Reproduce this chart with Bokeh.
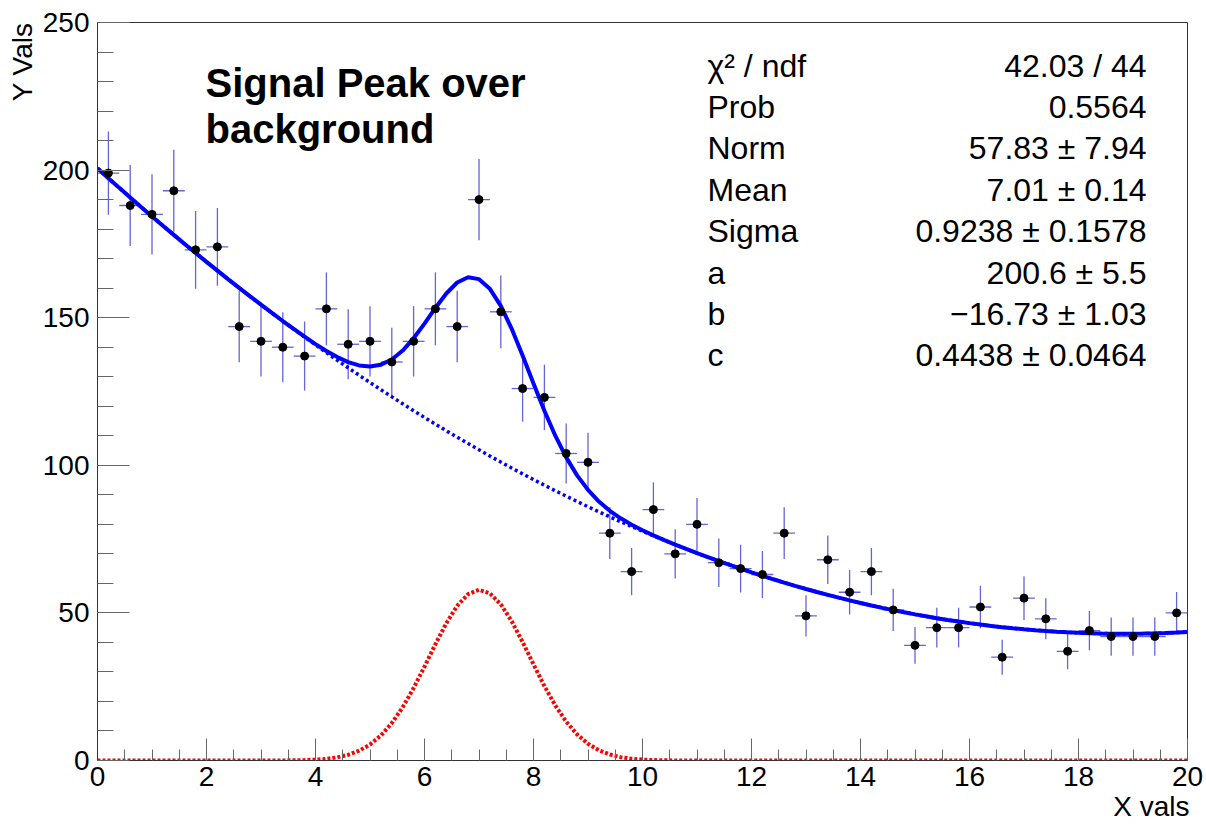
import numpy as np
from bokeh.plotting import figure
from bokeh.models import Range1d, FixedTicker, Label, Title
from bokeh.embed import file_html
from bokeh.resources import INLINE

# ---------------- data ----------------
x_centers = [0.2, 0.6, 1.0, 1.4, 1.8, 2.2, 2.6, 3.0, 3.4, 3.8,
             4.2, 4.6, 5.0, 5.4, 5.8, 6.2, 6.6, 7.0, 7.4, 7.8,
             8.2, 8.6, 9.0, 9.4, 9.8, 10.2, 10.6, 11.0, 11.4, 11.8,
             12.2, 12.6, 13.0, 13.4, 13.8, 14.2, 14.6, 15.0, 15.4, 15.8,
             16.2, 16.6, 17.0, 17.4, 17.8, 18.2, 18.6, 19.0, 19.4, 19.8]
counts = [199, 188, 185, 193, 173, 174, 147, 142, 140, 137,
          153, 141, 142, 135, 142, 153, 147, 190, 152, 126,
          123, 104, 101, 77, 64, 85, 70, 80, 67, 65,
          63, 77, 49, 68, 57, 64, 51, 39, 45, 45,
          52, 35, 55, 48, 37, 44, 42, 42, 42, 50]
bin_half_width = 0.2

# fit parameters shown in the stats box
fit_norm, fit_mean, fit_sigma = 57.83, 7.01, 0.9238
fit_a, fit_b, fit_c = 200.6, -16.73, 0.4438

stat_names = ["\u03c7\u00b2 / ndf", "Prob", "Norm", "Mean", "Sigma", "a", "b", "c"]
stat_values = ["42.03 / 44", "0.5564", "57.83 \u00b1 7.94", "7.01 \u00b1 0.14",
               "0.9238 \u00b1 0.1578", "200.6 \u00b1 5.5", "\u221216.73 \u00b1 1.03",
               "0.4438 \u00b1 0.0464"]

x_ticks = [0, 2, 4, 6, 8, 10, 12, 14, 16, 18, 20]
x_minor = [v * 0.5 for v in range(41)]
y_ticks = [0, 50, 100, 150, 200, 250]
y_minor = list(range(0, 251, 10))

title_lines = ["Signal Peak over", "background"]
x_title = "X vals"
y_title = "Y Vals"

# ---------------- derived ----------------
xc = np.array(x_centers, dtype=float)
yc = np.array(counts, dtype=float)
err = np.sqrt(yc)

xf = np.linspace(0, 20, 101)
bkg = fit_a + fit_b * xf + fit_c * xf ** 2
sig = fit_norm * np.exp(-0.5 * ((xf - fit_mean) / fit_sigma) ** 2)
total = bkg + sig

# ---------------- figure ----------------
W, H = 1206, 825
FL, FR, FT, FB = 97.0, 1187.0, 22.0, 760.0
p = figure(width=W, height=H, x_range=Range1d(0, 20), y_range=Range1d(0, 250),
           output_backend="svg", toolbar_location=None,
           min_border_left=int(FL), min_border_right=int(W - FR),
           min_border_top=int(FT), min_border_bottom=int(H - FB))
p.grid.visible = False
p.outline_line_color = "#333333"
p.outline_line_width = 1
p.background_fill_color = "white"
p.border_fill_color = "white"

FONT = "Liberation Sans"

xa = p.xaxis[0]
xa.ticker = FixedTicker(ticks=x_ticks, minor_ticks=x_minor)
xa.major_tick_in = 22
xa.major_tick_out = 0
xa.minor_tick_in = 11
xa.minor_tick_out = 0
xa.major_label_text_font = FONT
xa.major_label_text_font_size = "28px"
xa.major_label_text_color = "black"
xa.major_label_standoff = 6
xa.axis_line_color = "#333333"
xa.major_tick_line_color = "#666666"
xa.minor_tick_line_color = "#666666"

ya = p.yaxis[0]
ya.ticker = FixedTicker(ticks=y_ticks, minor_ticks=y_minor)
ya.major_tick_in = 32
ya.major_tick_out = 0
ya.minor_tick_in = 16
ya.minor_tick_out = 0
ya.major_label_text_font = FONT
ya.major_label_text_font_size = "28px"
ya.major_label_text_color = "black"
ya.major_label_standoff = 8
ya.axis_line_color = "#333333"
ya.major_tick_line_color = "#666666"
ya.minor_tick_line_color = "#666666"

# axis titles (ROOT style: at the far end of each axis)
p.add_layout(Title(text=y_title, align="right", text_font=FONT, text_font_size="28px",
                   text_font_style="normal", text_color="black", standoff=3), "left")
p.add_layout(Title(text=x_title, align="right", text_font=FONT, text_font_size="28px",
                   text_font_style="normal", text_color="black", standoff=0, offset=-2), "below")

# error bars
p.segment(x0=xc, y0=yc - err, x1=xc, y1=yc + err, line_color="#6266d6", line_width=1.3)
p.segment(x0=xc - bin_half_width, y0=yc, x1=xc + bin_half_width, y1=yc,
          line_color="#6266d6", line_width=1.3)

# curves
p.line(xf, sig, line_color="#ff0000", line_width=4, line_dash="3 2")
p.line(xf, bkg, line_color="#0000ff", line_width=3.5, line_dash="3 3")
p.line(xf, total, line_color="#0000ff", line_width=4)

# data points
p.scatter(xc, yc, size=8, marker="circle", fill_color="black", line_color="black")

# ---------------- texts inside the frame ----------------


def dx(px):
    return (px - FL) / (FR - FL) * 20.0


def dy(py):
    return (FB - py) / (FB - FT) * 250.0


def add_text(text, px, py, size, align="left", bold=False):
    p.add_layout(Label(x=dx(px), y=dy(py), text=text, text_font=FONT,
                       text_font_size=f"{size}px", text_align=align,
                       text_baseline="alphabetic", text_color="black",
                       text_font_style="bold" if bold else "normal"))


add_text(title_lines[0], 205, 82, 40, bold=True)
add_text(title_lines[1], 205, 128, 40, bold=True)

for i, (n, v) in enumerate(zip(stat_names, stat_values)):
    base = 65 + i * 41.4
    add_text(n, 707, base, 32)
    add_text(v, 1146, base, 32, align="right")

open("out.html", "w").write(file_html(p, INLINE))
